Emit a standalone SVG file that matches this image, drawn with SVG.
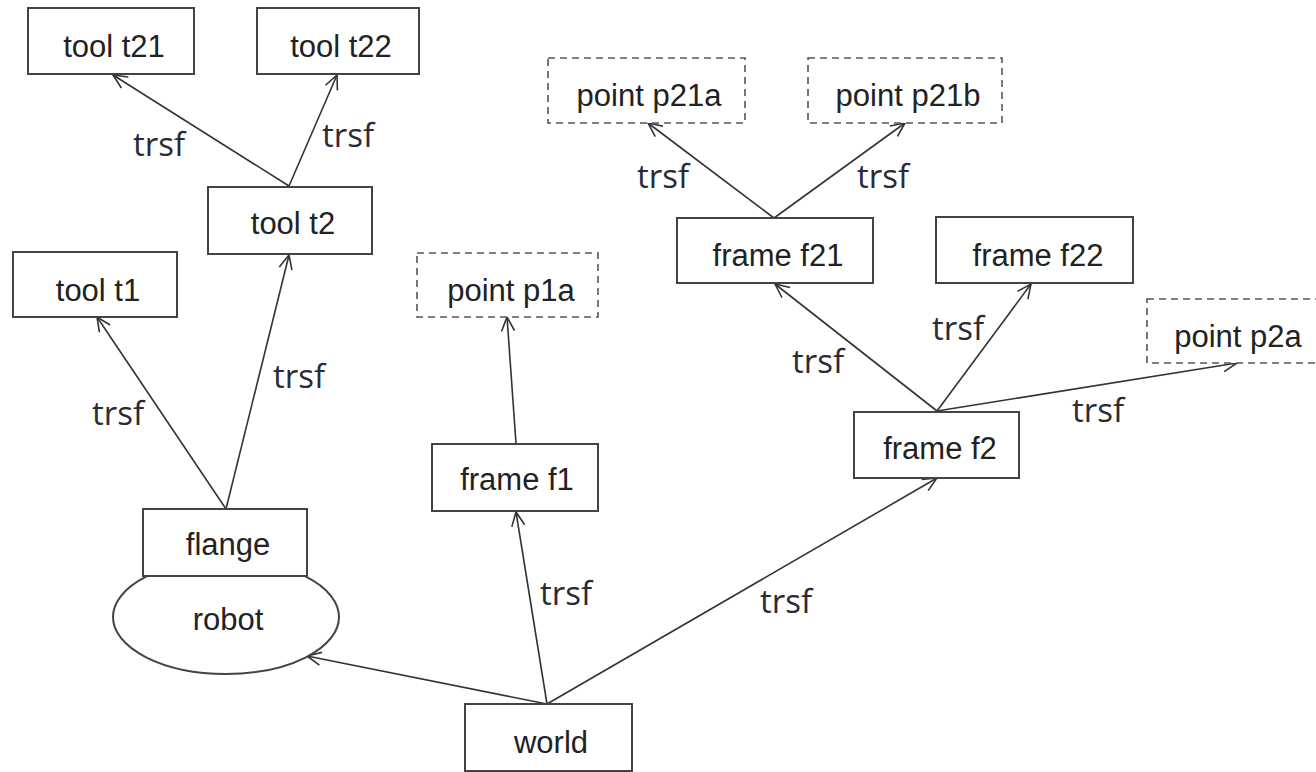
<svg xmlns="http://www.w3.org/2000/svg" width="1316" height="772" viewBox="0 0 1316 772">
<style>
.box{fill:#fff;stroke:#444;stroke-width:2}
.dash{fill:#fff;stroke:#555;stroke-width:1.6;stroke-dasharray:7 5}
.lbl{font-family:"Liberation Sans",Arial,sans-serif;font-size:31px;fill:#222;text-anchor:middle}
.edge{fill:none;stroke:#333;stroke-width:1.6;marker-end:url(#arr)}
.el{font-family:"Open Sans","Noto Sans",sans-serif;font-size:33px;fill:#2b2b38}
</style>
<defs>
<marker id="arr" markerUnits="userSpaceOnUse" markerWidth="20" markerHeight="20" viewBox="-16 -10 20 20" refX="0" refY="0" orient="auto">
<path d="M-14,-6.5 L0,0 L-14,6.5" fill="none" stroke="#333" stroke-width="1.6"/>
</marker>
</defs>
<rect width="1316" height="772" fill="#fff"/>
<g id="connectors">
<line class="edge" x1="289" y1="186" x2="113" y2="75"/>
<line class="edge" x1="289" y1="186" x2="337" y2="75"/>
<line class="edge" x1="226" y1="509" x2="97" y2="317"/>
<line class="edge" x1="226" y1="509" x2="289" y2="255"/>
<line class="edge" x1="516" y1="443" x2="507" y2="317"/>
<line class="edge" x1="547" y1="704" x2="516" y2="512"/>
<line class="edge" x1="547" y1="704" x2="307" y2="656"/>
<line class="edge" x1="547" y1="704" x2="937" y2="478"/>
<line class="edge" x1="937" y1="411" x2="775" y2="284"/>
<line class="edge" x1="937" y1="411" x2="1031" y2="284"/>
<line class="edge" x1="937" y1="411" x2="1237" y2="363"/>
<line class="edge" x1="774" y1="218" x2="648" y2="123"/>
<line class="edge" x1="774" y1="218" x2="905" y2="123"/>
<text class="el" x="133" y="156">trsf</text>
<text class="el" x="322" y="147">trsf</text>
<text class="el" x="92" y="425">trsf</text>
<text class="el" x="273" y="388">trsf</text>
<text class="el" x="540" y="605">trsf</text>
<text class="el" x="760" y="613">trsf</text>
<text class="el" x="792" y="373">trsf</text>
<text class="el" x="932" y="340">trsf</text>
<text class="el" x="1072" y="422">trsf</text>
<text class="el" x="637" y="188">trsf</text>
<text class="el" x="857" y="188">trsf</text>
</g>
<g id="tool_t21"><rect class="box" x="28" y="8" width="166" height="66"/><text class="lbl" x="114" y="57">tool t21</text></g>
<g id="tool_t22"><rect class="box" x="257" y="8" width="162" height="66"/><text class="lbl" x="341" y="57">tool t22</text></g>
<g id="tool_t2"><rect class="box" x="208" y="187" width="164" height="67"/><text class="lbl" x="293" y="234">tool t2</text></g>
<g id="tool_t1"><rect class="box" x="13" y="252" width="164" height="65"/><text class="lbl" x="98" y="301">tool t1</text></g>
<g id="point_p21a"><rect class="dash" x="548" y="58" width="197" height="65"/><text class="lbl" x="649" y="106">point p21a</text></g>
<g id="point_p21b"><rect class="dash" x="808" y="58" width="194" height="65"/><text class="lbl" x="908" y="106">point p21b</text></g>
<g id="frame_f21"><rect class="box" x="677" y="218" width="196" height="65"/><text class="lbl" x="778" y="266">frame f21</text></g>
<g id="frame_f22"><rect class="box" x="936" y="217" width="197" height="66"/><text class="lbl" x="1038" y="266">frame f22</text></g>
<g id="point_p1a"><rect class="dash" x="417" y="253" width="181" height="64"/><text class="lbl" x="511" y="301">point p1a</text></g>
<g id="point_p2a"><rect class="dash" x="1147" y="299" width="190" height="64"/><text class="lbl" x="1238" y="347">point p2a</text></g>
<g id="frame_f1"><rect class="box" x="432" y="444" width="166" height="67"/><text class="lbl" x="517" y="490">frame f1</text></g>
<g id="frame_f2"><rect class="box" x="854" y="412" width="165" height="66"/><text class="lbl" x="940" y="459">frame f2</text></g>
<g id="robot"><ellipse class="box" cx="226" cy="617" rx="113" ry="57"/><text class="lbl" x="228" y="630">robot</text></g>
<g id="flange"><rect class="box" x="143" y="509" width="164" height="67"/><text class="lbl" x="228" y="555">flange</text></g>
<g id="world"><rect class="box" x="465" y="704" width="167" height="67"/><text class="lbl" x="551" y="753">world</text></g>
</svg>
